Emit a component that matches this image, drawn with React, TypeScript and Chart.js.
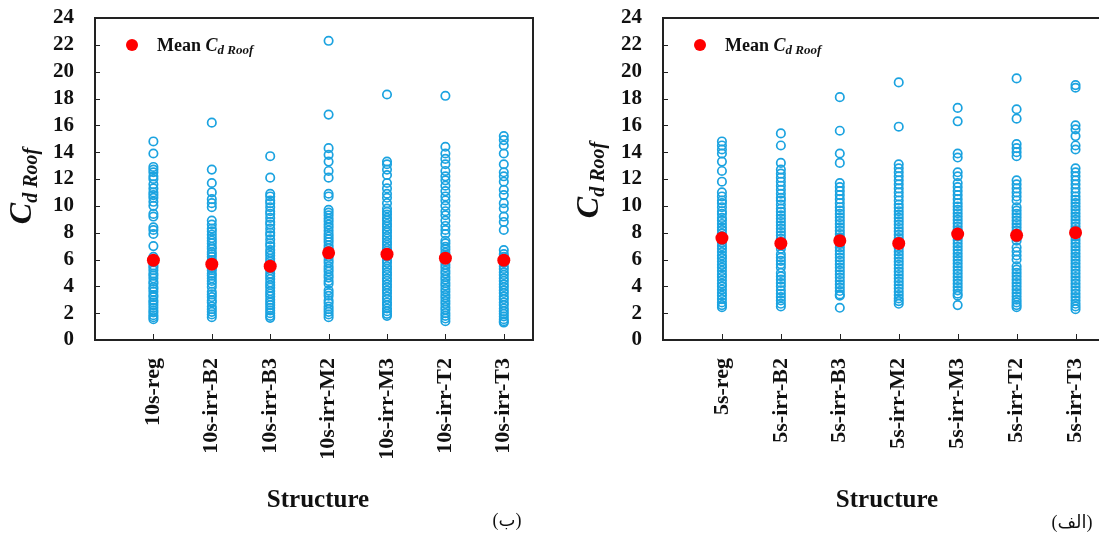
import React, { useEffect, useRef } from 'react';
import { Chart, registerables } from 'chart.js';

Chart.register(...registerables);

// ---------- Data ----------
const labels10 = ['10s-reg', '10s-irr-B2', '10s-irr-B3', '10s-irr-M2', '10s-irr-M3', '10s-irr-T2', '10s-irr-T3'];
const labels5 = ['5s-reg', '5s-irr-B2', '5s-irr-B3', '5s-irr-M2', '5s-irr-M3', '5s-irr-T2', '5s-irr-T3'];

const reg10 = [14.8, 13.9, 12.9, 12.7, 12.5, 12.2, 12.0, 11.6, 11.3, 11.0, 10.8, 10.6, 10.3, 10.0, 9.4, 9.2, 8.4, 8.2, 7.9, 7.0, 6.2, 5.95, 5.8, 5.55, 5.4, 5.2, 4.95, 4.8, 4.6, 4.35, 4.2, 3.95, 3.8, 3.6, 3.35, 3.2, 2.95, 2.8, 2.6, 2.4, 2.2, 2.05, 1.85, 1.7, 1.55];
const b2_10 = [16.2, 12.7, 11.7, 11.0, 10.5, 10.2, 9.9, 8.9, 8.6, 8.3, 8.1, 7.85, 7.6, 7.4, 7.2, 6.95, 6.8, 6.55, 6.4, 6.2, 5.95, 5.8, 5.6, 5.35, 5.2, 4.95, 4.8, 4.6, 4.4, 4.2, 3.95, 3.6, 3.4, 3.2, 2.95, 2.8, 2.5, 2.3, 2.1, 1.9, 1.7];
const b3_10 = [13.7, 12.1, 10.9, 10.7, 10.4, 10.2, 9.9, 9.6, 9.4, 9.1, 8.8, 8.6, 8.3, 8.0, 7.8, 7.5, 7.2, 7.0, 6.7, 6.5, 6.3, 6.05, 5.85, 5.6, 5.4, 5.2, 4.95, 4.75, 4.55, 4.3, 4.1, 3.9, 3.65, 3.45, 3.25, 3.0, 2.8, 2.6, 2.4, 2.2, 2.0, 1.8, 1.65];
const m2_10 = [22.3, 16.8, 14.3, 13.8, 13.3, 12.6, 12.1, 10.9, 10.7, 9.7, 9.5, 9.3, 9.05, 8.85, 8.6, 8.4, 8.15, 7.9, 7.7, 7.5, 7.3, 7.05, 6.85, 6.6, 6.4, 6.2, 5.95, 5.75, 5.5, 5.3, 5.1, 4.85, 4.65, 4.4, 4.2, 3.7, 3.5, 3.3, 2.95, 2.75, 2.5, 2.3, 2.1, 1.9, 1.7];
const m3_10 = [18.3, 13.3, 13.1, 12.7, 12.3, 11.7, 11.3, 10.9, 10.6, 10.2, 9.8, 9.55, 9.35, 9.1, 8.9, 8.65, 8.45, 8.2, 8.0, 7.75, 7.55, 7.3, 7.1, 6.85, 6.65, 6.4, 6.2, 5.95, 5.75, 5.5, 5.3, 5.05, 4.85, 4.6, 4.4, 4.15, 3.95, 3.7, 3.5, 3.25, 3.05, 2.8, 2.6, 2.35, 2.15, 1.95, 1.8];
const t2_10 = [18.2, 14.4, 13.9, 13.5, 13.1, 12.6, 12.2, 11.9, 11.5, 11.1, 10.7, 10.4, 10.0, 9.6, 9.3, 8.9, 8.5, 8.2, 7.9, 7.4, 7.2, 6.95, 6.75, 6.5, 6.3, 6.05, 5.85, 5.6, 5.4, 5.15, 4.95, 4.7, 4.5, 4.25, 4.05, 3.8, 3.6, 3.35, 3.15, 2.9, 2.7, 2.45, 2.25, 2.0, 1.8, 1.6, 1.4];
const t3_10 = [15.2, 14.9, 14.5, 13.9, 13.1, 12.5, 12.2, 11.8, 11.2, 10.8, 10.2, 9.8, 9.2, 8.8, 8.2, 6.7, 6.4, 6.2, 5.95, 5.75, 5.5, 5.3, 5.05, 4.85, 4.6, 4.4, 4.15, 3.95, 3.7, 3.5, 3.25, 3.05, 2.8, 2.6, 2.35, 2.15, 1.95, 1.75, 1.55, 1.4, 1.3];

const reg5 = [14.8, 14.5, 14.2, 13.9, 13.3, 12.6, 11.8, 11.0, 10.7, 10.4, 10.2, 9.9, 9.6, 9.4, 9.1, 8.9, 8.65, 8.4, 8.2, 7.95, 7.7, 7.5, 7.25, 7.0, 6.8, 6.55, 6.3, 6.1, 5.85, 5.6, 5.4, 5.15, 4.9, 4.7, 4.45, 4.2, 4.0, 3.75, 3.5, 3.3, 3.05, 2.8, 2.6, 2.45];
const b2_5 = [15.4, 14.5, 13.2, 12.7, 12.4, 12.1, 11.8, 11.5, 11.2, 10.9, 10.6, 10.4, 10.1, 9.8, 9.55, 9.3, 9.05, 8.8, 8.55, 8.3, 8.05, 7.8, 7.55, 7.3, 7.05, 6.8, 6.4, 6.15, 5.9, 5.65, 5.4, 5.0, 4.75, 4.5, 4.25, 4.0, 3.7, 3.45, 3.2, 2.95, 2.7, 2.5];
const b3_5 = [18.1, 15.6, 13.9, 13.2, 11.7, 11.4, 11.1, 10.8, 10.5, 10.2, 9.9, 9.65, 9.4, 9.15, 8.9, 8.65, 8.4, 8.15, 7.9, 7.65, 7.4, 7.15, 6.9, 6.65, 6.4, 6.15, 5.9, 5.65, 5.4, 5.15, 4.9, 4.65, 4.4, 4.15, 3.9, 3.65, 3.4, 3.3, 2.4];
const m2_5 = [19.2, 15.9, 13.1, 12.8, 12.5, 12.2, 11.9, 11.6, 11.3, 11.0, 10.7, 10.4, 10.1, 9.85, 9.6, 9.35, 9.1, 8.85, 8.6, 8.35, 8.1, 7.85, 7.6, 7.35, 7.1, 6.85, 6.6, 6.35, 6.1, 5.85, 5.6, 5.35, 5.1, 4.85, 4.6, 4.35, 4.1, 3.85, 3.6, 3.35, 3.1, 2.9, 2.7];
const m3_5 = [17.3, 16.3, 13.9, 13.6, 12.5, 12.2, 11.7, 11.4, 11.1, 10.8, 10.5, 10.2, 9.95, 9.7, 9.45, 9.2, 8.95, 8.7, 8.45, 8.2, 7.95, 7.7, 7.45, 7.2, 6.95, 6.7, 6.45, 6.2, 5.95, 5.7, 5.45, 5.2, 4.95, 4.7, 4.45, 4.2, 3.95, 3.7, 3.45, 3.3, 2.6];
const t2_5 = [19.5, 17.2, 16.5, 14.6, 14.3, 14.0, 13.7, 11.9, 11.6, 11.3, 11.0, 10.7, 10.4, 9.9, 9.65, 9.4, 9.15, 8.9, 8.65, 8.4, 8.15, 7.9, 7.65, 7.4, 6.9, 6.6, 6.3, 6.0, 5.5, 5.25, 5.0, 4.75, 4.5, 4.25, 4.0, 3.75, 3.5, 3.25, 3.0, 2.8, 2.6, 2.45];
const t3_5 = [19.0, 18.8, 16.0, 15.7, 15.2, 14.5, 14.2, 12.8, 12.5, 12.2, 11.9, 11.6, 11.3, 11.0, 10.7, 10.45, 10.2, 9.95, 9.7, 9.45, 9.2, 8.95, 8.7, 8.45, 8.2, 7.95, 7.7, 7.45, 7.2, 6.95, 6.7, 6.45, 6.2, 5.95, 5.7, 5.45, 5.2, 4.95, 4.7, 4.45, 4.2, 3.95, 3.7, 3.45, 3.2, 2.95, 2.7, 2.5, 2.3];

const mean10 = [5.95, 5.65, 5.5, 6.5, 6.4, 6.1, 5.95];
const mean5 = [7.6, 7.2, 7.4, 7.2, 7.9, 7.8, 8.0];

const yTickMin = 0;
const yTickMax = 24;
const yTickStep = 2;

// ---------- Styles ----------
const SERIF = '"Liberation Serif", "Times New Roman", "DejaVu Serif", serif';
const BLUE = '#1ba3e0';
const RED = '#ff0000';
const INK = '#111111';

type PanelCfg = {
  labels: string[];
  series: number[][];
  means: number[];
  tag: string;
  canvasLeft: number;
  canvasWidth: number;
  yAxisW: number;
  padRight: number;
  drawRight: boolean;
  yTitleBaseOffset: number;
  yTitleCenterY: number;
  xTitleDx: number;
  tagX: number;
  tagY: number;
};

function drawCd(ctx: CanvasRenderingContext2D, x: number, y: number, mainSize: number, subSize: number, shift: number, prefix?: string, prefixSize?: number) {
  let cx = x;
  if (prefix) {
    ctx.font = `bold ${prefixSize}px ${SERIF}`;
    ctx.fillText(prefix, cx, y);
    cx += ctx.measureText(prefix).width;
  }
  ctx.font = `italic bold ${mainSize}px ${SERIF}`;
  ctx.fillText('C', cx, y);
  cx += ctx.measureText('C').width;
  ctx.font = `italic bold ${subSize}px ${SERIF}`;
  ctx.fillText('d Roof', cx, y + shift);
}

function widthCd(ctx: CanvasRenderingContext2D, mainSize: number, subSize: number) {
  ctx.font = `italic bold ${mainSize}px ${SERIF}`;
  const a = ctx.measureText('C').width;
  ctx.font = `italic bold ${subSize}px ${SERIF}`;
  const b = ctx.measureText('d Roof').width;
  return a + b;
}

function makeOverlay(cfg: PanelCfg) {
  return {
    id: 'overlay',
    afterDraw(chart: any) {
      const { ctx, chartArea: a, scales } = chart;
      ctx.save();
      // inward tick marks
      ctx.strokeStyle = '#222';
      ctx.lineWidth = 1;
      ctx.beginPath();
      scales.x.ticks.forEach((t: any) => {
        const px = Math.round(scales.x.getPixelForValue(t.value)) + 0.5;
        ctx.moveTo(px, a.bottom);
        ctx.lineTo(px, a.bottom - 6);
      });
      scales.y.ticks.forEach((t: any) => {
        const py = Math.round(scales.y.getPixelForValue(t.value)) + 0.5;
        ctx.moveTo(a.left, py);
        ctx.lineTo(a.left + 5, py);
      });
      ctx.stroke();
      // frame
      ctx.lineWidth = 2;
      ctx.strokeStyle = '#222';
      ctx.beginPath();
      if (cfg.drawRight) {
        ctx.rect(a.left, a.top, a.right - a.left, a.bottom - a.top);
      } else {
        ctx.moveTo(chart.width, a.top);
        ctx.lineTo(a.left, a.top);
        ctx.lineTo(a.left, a.bottom);
        ctx.lineTo(chart.width, a.bottom);
      }
      ctx.stroke();

      ctx.fillStyle = INK;
      ctx.textAlign = 'left';
      ctx.textBaseline = 'alphabetic';

      // y-axis title (rotated)
      const mainSize = 32, subSize = 20;
      const tw = widthCd(ctx, mainSize, subSize);
      ctx.save();
      ctx.translate(a.left - cfg.yTitleBaseOffset, cfg.yTitleCenterY);
      ctx.rotate(-Math.PI / 2);
      drawCd(ctx, -tw / 2, 0, mainSize, subSize, 6);
      ctx.restore();

      // legend
      ctx.fillStyle = RED;
      ctx.beginPath();
      ctx.arc(a.left + 37, 45, 6, 0, Math.PI * 2);
      ctx.fill();
      ctx.fillStyle = INK;
      drawCd(ctx, a.left + 62, 51, 18, 13, 3, 'Mean ', 18);

      // x-axis title
      ctx.font = `bold 25px ${SERIF}`;
      ctx.textAlign = 'center';
      ctx.fillText('Structure', (a.left + a.right) / 2 + cfg.xTitleDx, 507);

      // panel tag
      ctx.font = `18px ${SERIF}, "DejaVu Sans"`;
      ctx.fillText(cfg.tag, cfg.tagX, cfg.tagY);
      ctx.restore();
    },
  };
}

function Panel({ cfg }: { cfg: PanelCfg }) {
  const ref = useRef<HTMLCanvasElement | null>(null);
  useEffect(() => {
    if (!ref.current) return;
    const scatterData: { x: number; y: number }[] = [];
    cfg.series.forEach((vals, i) => vals.forEach((v) => scatterData.push({ x: i + 1, y: v })));
    const meanData = cfg.means.map((v, i) => ({ x: i + 1, y: v }));
    const chart = new Chart(ref.current, {
      type: 'scatter',
      data: {
        datasets: [
          {
            label: 'Mean',
            data: meanData,
            pointRadius: 6.5,
            pointBackgroundColor: RED,
            pointBorderColor: RED,
            pointBorderWidth: 0,
            order: 0,
          },
          {
            label: 'Cd Roof',
            data: scatterData,
            pointRadius: 4.2,
            pointBackgroundColor: 'rgba(0,0,0,0)',
            pointBorderColor: BLUE,
            pointBorderWidth: 1.7,
            order: 1,
          },
        ],
      },
      options: {
        responsive: false,
        animation: false,
        devicePixelRatio: 1,
        layout: { padding: { left: 0, right: cfg.padRight, top: 18, bottom: 0 } },
        plugins: { legend: { display: false }, tooltip: { enabled: false } },
        scales: {
          x: {
            type: 'linear',
            min: 0,
            max: 7.5,
            afterBuildTicks: (s: any) => {
              s.ticks = cfg.labels.map((_, i) => ({ value: i + 1 }));
            },
            afterFit: (s: any) => {
              s.height = 194;
              s.paddingLeft = 0;
              s.paddingRight = 0;
            },
            ticks: {
              autoSkip: false,
              minRotation: 90,
              maxRotation: 90,
              padding: 18,
              color: INK,
              font: { family: SERIF, size: 22, weight: 'bold' as const },
              callback: (v: any) => cfg.labels[Math.round(Number(v)) - 1] ?? '',
            },
            grid: { display: false, drawTicks: false },
            border: { display: false },
          },
          y: {
            type: 'linear',
            min: yTickMin,
            max: yTickMax,
            afterFit: (s: any) => {
              s.width = cfg.yAxisW;
              s.paddingTop = 0;
              s.paddingBottom = 0;
            },
            ticks: {
              stepSize: yTickStep,
              autoSkip: false,
              padding: 21,
              color: INK,
              font: { family: SERIF, size: 21, weight: 'bold' as const },
            },
            grid: { display: false, drawTicks: false },
            border: { display: false },
          },
        },
      },
      plugins: [makeOverlay(cfg)],
    });
    return () => chart.destroy();
  }, [cfg]);
  return (
    <canvas
      ref={ref}
      width={cfg.canvasWidth}
      height={534}
      style={{ position: 'absolute', left: cfg.canvasLeft, top: 0, width: cfg.canvasWidth, height: 534 }}
    />
  );
}

const leftCfg: PanelCfg = {
  labels: labels10,
  series: [reg10, b2_10, b3_10, m2_10, m3_10, t2_10, t3_10],
  means: mean10,
  tag: '(ب)',
  canvasLeft: 0,
  canvasWidth: 545,
  yAxisW: 95,
  padRight: 12,
  drawRight: true,
  yTitleBaseOffset: 64,
  yTitleCenterY: 186,
  xTitleDx: 4,
  tagX: 507,
  tagY: 526,
};

const rightCfg: PanelCfg = {
  labels: labels5,
  series: [reg5, b2_5, b3_5, m2_5, m3_5, t2_5, t3_5],
  means: mean5,
  tag: '(الف)',
  canvasLeft: 560,
  canvasWidth: 560,
  yAxisW: 103,
  padRight: 15,
  drawRight: false,
  yTitleBaseOffset: 65,
  yTitleCenterY: 180,
  xTitleDx: 3,
  tagX: 512,
  tagY: 528,
};

export default function App() {
  return (
    <div style={{ position: 'absolute', left: 0, top: 0, width: 1099, height: 534, overflow: 'hidden', background: '#fff' }}>
      <Panel cfg={leftCfg} />
      <Panel cfg={rightCfg} />
    </div>
  );
}
